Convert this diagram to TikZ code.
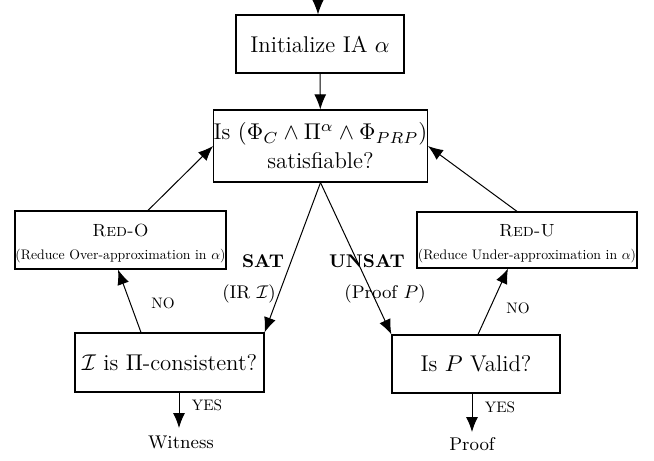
\RequirePackage{fix-cm}
\documentclass[tikz,border=0pt]{standalone}
\usepackage{graphicx}
\usetikzlibrary{arrows.meta,calc}
\newcommand\mainsz{\fontsize{11.4}{14.5}\selectfont}
\newcommand\labsz{\fontsize{9.2}{11}\selectfont}
\newcommand\redsz{\fontsize{8.8}{11.5}\selectfont}
\newcommand\scl[2]{\scalebox{#1}{\fontsize{10}{12}\selectfont #2}}
\begin{document}
\begin{tikzpicture}[x=0.5pt,y=-0.5pt,
  box/.style={draw,line width=0.6pt,inner sep=0pt,align=center,font=\mainsz},
  redbox/.style={draw,line width=0.6pt,inner sep=0pt,align=center,font=\redsz},
  arr/.style={-{Latex[length=7.5pt,width=6pt]},line width=0.5pt},
  lab/.style={inner sep=0pt,font=\labsz},
  yn/.style={inner sep=0pt}]
\useasboundingbox (0,0) rectangle (654,461);
\coordinate (start) at (318,0);
\node[box,minimum width=84pt,minimum height=29pt] (init) at (320,44) {Initialize IA $\alpha$};
\node[box,minimum width=106.5pt,minimum height=36pt] (sat) at (320.5,146) {Is $(\Phi_C\wedge\Pi^\alpha\wedge\Phi_{PRP})$\\satisfiable?};
\node[redbox,minimum width=105.5pt,minimum height=29pt] (redo) at (120.5,240) {\rule{0pt}{9.5pt}\textsc{Red-O}\\\scl{0.69}{(Reduce Over-approximation in $\alpha$)}};
\node[redbox,minimum width=110pt,minimum height=28pt] (redu) at (527,240) {\rule{0pt}{9.5pt}\textsc{Red-U}\\\scl{0.69}{(Reduce Under-approximation in $\alpha$)}};
\node[box,minimum width=94.5pt,minimum height=29.5pt] (cons) at (169.5,362.5) {$\mathcal{I}$ is $\Pi$-consistent?};
\node[box,minimum width=84pt,minimum height=29pt] (valid) at (476,364) {Is $P$ Valid?};
\node[inner sep=1pt,font=\labsz] (wit) at (181,442) {Witness};
\node[inner sep=1pt,font=\labsz] (prf) at (472,444) {Proof};
\coordinate (wa) at (179,428);
\coordinate (pa) at (472,432);

\draw[arr] (start) -- (start |- init.north);
\draw[arr] (init) -- (sat);
\draw[arr] (sat.south) -- (cons.north east);
\draw[arr] (sat.south) -- (valid.north west);
\draw[arr] ($(cons.north)+(-28.5,0)$) -- ($(redo.south)+(-2.5,0)$);
\draw[arr] ($(valid.north)+(2,0)$) -- ($(redu.south)+(-19,0)$);
\draw[arr] ($(redo.north)+(27.5,0)$) -- (sat.west);
\draw[arr] ($(redu.north)+(-10,0)$) -- (sat.east);
\draw[arr] (cons.south -| wa) -- (wa);
\draw[arr] (valid.south -| pa) -- (pa);

\node[lab] (satl) at (263,261) {\textbf{SAT}};
\node[lab] (irl) at (249,294) {(IR $\mathcal{I}$)};
\node[lab] (unsatl) at (367,261) {\textbf{UNSAT}};
\node[lab] (pfl) at (385,294) {(Proof $P$)};
\node[yn] (no1) at (163,303) {\scl{0.76}{NO}};
\node[yn] (no2) at (518,308) {\scl{0.76}{NO}};
\node[yn] (yes1) at (207,405) {\scl{0.76}{YES}};
\node[yn] (yes2) at (500,407) {\scl{0.76}{YES}};
\end{tikzpicture}
\end{document}
